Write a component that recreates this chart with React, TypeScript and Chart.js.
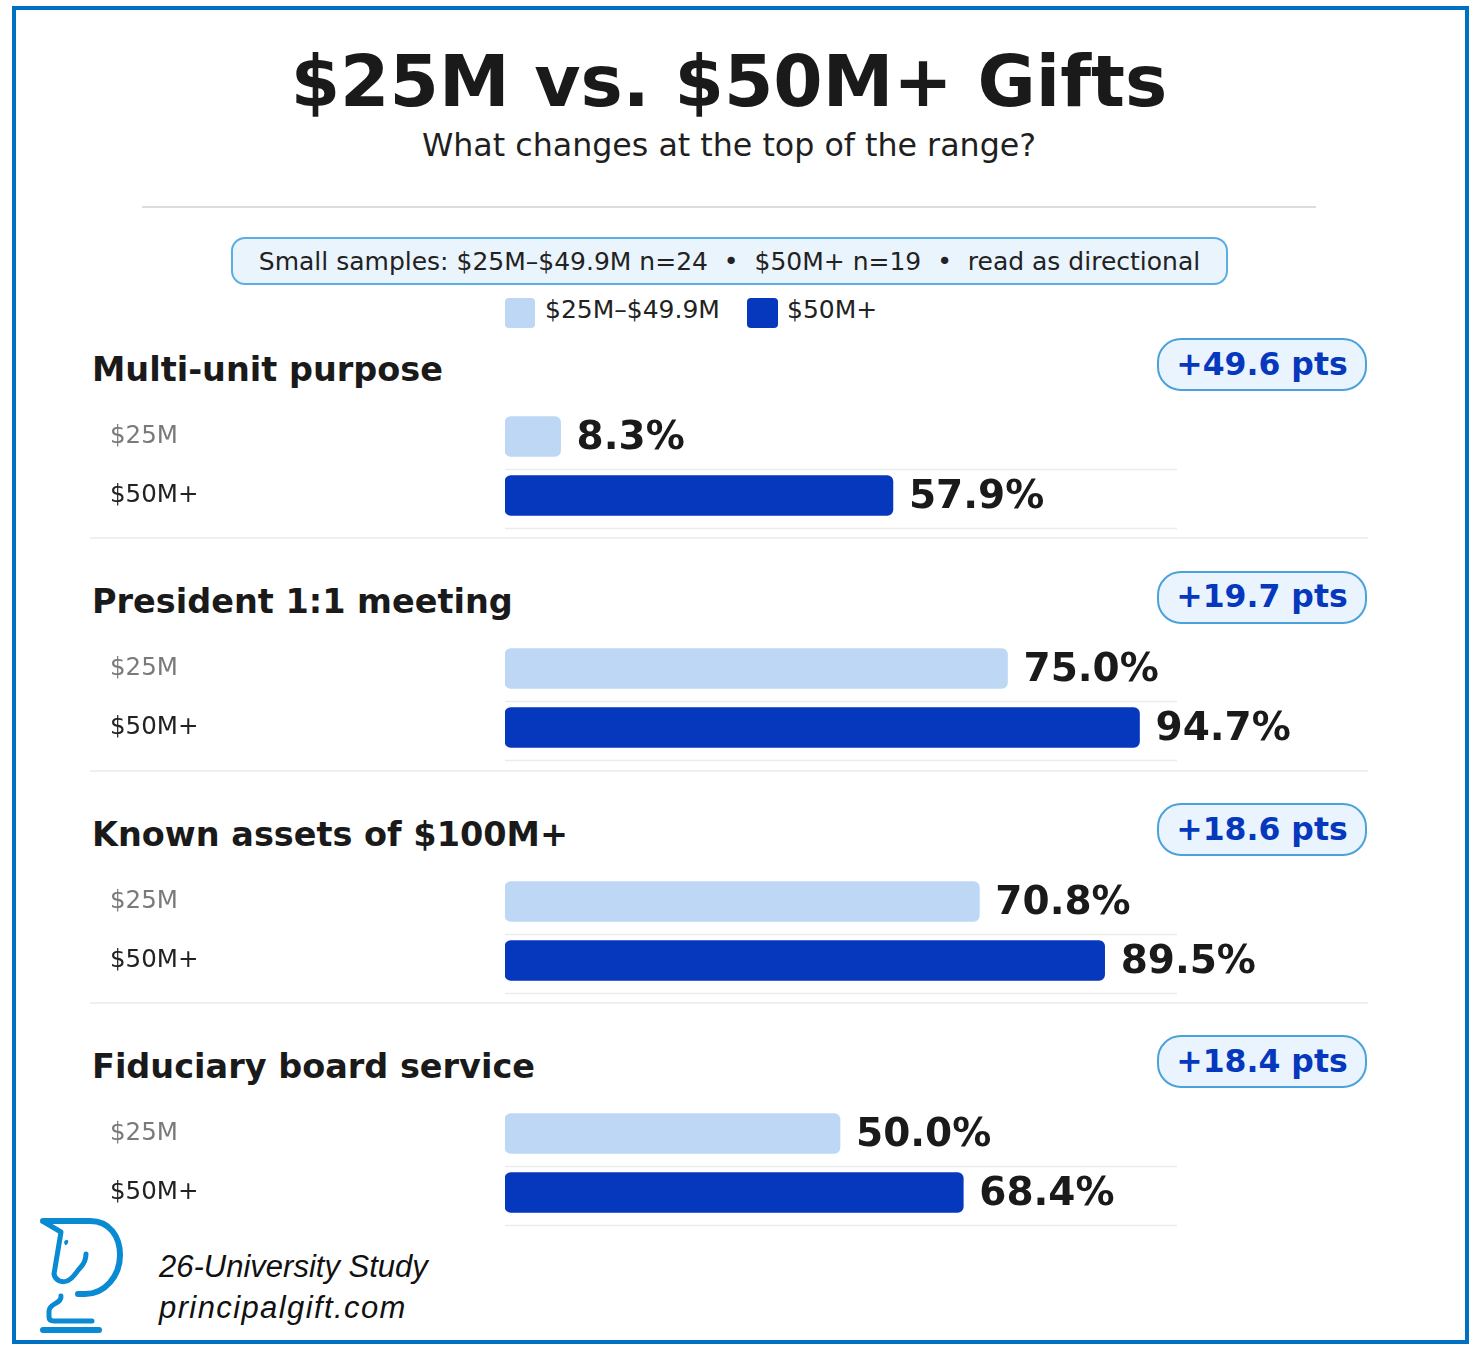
import React, { useEffect, useRef } from "react";
import { Chart, registerables } from "chart.js";

Chart.register(...registerables);
Chart.defaults.font.family = "'DejaVu Sans', sans-serif";

// ---- data ----
const groups = ["$25M", "$50M+"];
const legendLabels = ["$25M–$49.9M", "$50M+"];
const metrics = [
  "Multi-unit purpose",
  "President 1:1 meeting",
  "Known assets of $100M+",
  "Fiduciary board service",
];
const values25 = [8.3, 75.0, 70.8, 50.0];
const values50 = [57.9, 94.7, 89.5, 68.4];
const deltaLabels = ["+49.6 pts", "+19.7 pts", "+18.6 pts", "+18.4 pts"];
const noteText = "Small samples: $25M–$49.9M n=24  •  $50M+ n=19  •  read as directional";
const footerLines = ["26-University Study", "principalgift.com"];

const LIGHT = "#bdd7f5";
const DARK = "#0638bd";
const FONT = "'DejaVu Sans', sans-serif";
const FOOT_FONT = "'Liberation Sans', Arial, sans-serif";
const PANEL_OFFSETS = [0, 232.5, 465, 697];

const rowLinesPlugin = {
  id: "rowLines",
  beforeDatasetsDraw(chart: any) {
    const { ctx, chartArea, scales } = chart;
    const y = scales.y;
    ctx.save();
    ctx.strokeStyle = "#ececec";
    ctx.lineWidth = 1.5;
    for (let i = 0; i < groups.length; i++) {
      const py = y.getPixelForValue(i) + 33;
      ctx.beginPath();
      ctx.moveTo(chartArea.left, py);
      ctx.lineTo(chartArea.right + 2, py);
      ctx.stroke();
    }
    ctx.restore();
  },
};

const valueLabelPlugin = {
  id: "valueLabels",
  afterDatasetsDraw(chart: any) {
    const { ctx } = chart;
    const meta = chart.getDatasetMeta(0);
    const data = chart.data.datasets[0].data as number[];
    ctx.save();
    ctx.font = `bold 39px ${FONT}`;
    ctx.fillStyle = "#1a1a1a";
    ctx.textAlign = "left";
    ctx.textBaseline = "middle";
    meta.data.forEach((bar: any, i: number) => {
      ctx.fillText(`${data[i].toFixed(1)}%`, bar.x + 16, bar.y + 2);
    });
    ctx.restore();
  },
};

function PanelChart({ index, top }: { index: number; top: number }) {
  const ref = useRef<HTMLCanvasElement>(null);
  useEffect(() => {
    const chart = new Chart(ref.current as HTMLCanvasElement, {
      type: "bar",
      data: {
        labels: groups,
        datasets: [
          {
            data: [values25[index], values50[index]],
            backgroundColor: [LIGHT, DARK],
            borderRadius: 6,
            borderSkipped: false,
            barThickness: 40,
          },
        ],
      },
      options: {
        indexAxis: "y",
        animation: false,
        responsive: false,
        maintainAspectRatio: false,
        layout: { padding: { left: 0, right: 195, top: 0, bottom: 6 } },
        plugins: { legend: { display: false }, tooltip: { enabled: false } },
        scales: {
          x: { min: 0, max: 100, display: false },
          y: {
            grid: { display: false },
            border: { display: false },
            ticks: {
              color: (c: any) => (c.index === 0 ? "#7a7a7a" : "#222222"),
              font: { size: 24.5, family: FONT },
              crossAlign: "far",
              padding: 0,
            },
            afterFit: (s: any) => {
              s.width = 395;
              s.paddingTop = 0;
              s.paddingBottom = 0;
            },
          },
        },
      } as any,
      plugins: [rowLinesPlugin, valueLabelPlugin],
    });
    return () => chart.destroy();
  }, [index]);
  return (
    <canvas
      ref={ref}
      width={1260}
      height={124}
      style={{ position: "absolute", left: 110, top, width: 1260, height: 124 }}
    />
  );
}

function Txt(props: {
  x?: number;
  cx?: number;
  baseline: number;
  size: number;
  weight?: string | number;
  color?: string;
  family?: string;
  italic?: boolean;
  spacing?: number;
  children: React.ReactNode;
}) {
  const { x, cx, baseline, size, weight = "normal", color = "#1a1a1a", family = FONT, italic, spacing } = props;
  const top = baseline - 0.846 * size;
  const style: React.CSSProperties = {
    position: "absolute",
    top,
    fontSize: size,
    lineHeight: `${size}px`,
    fontWeight: weight as any,
    fontFamily: family,
    fontStyle: italic ? "italic" : "normal",
    letterSpacing: spacing ? `${spacing}px` : undefined,
    color,
    whiteSpace: "pre",
  };
  if (cx !== undefined) {
    style.left = cx - 1000;
    style.width = 2000;
    style.textAlign = "center";
  } else {
    style.left = x;
  }
  return <div style={style}>{props.children}</div>;
}

function Logo() {
  const c = "#0a8ad2";
  return (
    <svg
      style={{ position: "absolute", left: 30, top: 1210 }}
      width={110}
      height={130}
      viewBox="0 0 110 130"
    >
      <g fill="none" stroke={c} strokeLinejoin="round" strokeLinecap="round">
        <path strokeWidth={6} d="M 13 11 L 60 11 C 80 11 90 27 90 45 C 90 66 75 84 55 84 L 48 84" />
        <path strokeWidth={5} d="M 14 12 L 31 22 L 24 64 C 25 70 31 73 37 71 C 44 68 46 62 50 58 C 54 54 56 50 56 44" />
        <path strokeWidth={5} d="M 31 86 C 32 94 19 93 19 101 L 19 107 C 19 110 21 111 24 111 L 62 111" />
      </g>
      <path d="M 34 32 C 36 29 39 29 38 33 C 36 36 35 36 34 32 Z" fill={c} />
      <line x1={13} y1={120} x2={69} y2={120} stroke={c} strokeWidth={6} strokeLinecap="round" />
    </svg>
  );
}

export default function App() {
  return (
    <div
      style={{
        position: "absolute",
        left: 0,
        top: 0,
        width: 1473,
        height: 1349,
        background: "#ffffff",
        overflow: "hidden",
        fontFamily: FONT,
      }}
    >
      <div
        style={{
          position: "absolute",
          left: 12,
          top: 6,
          width: 1457,
          height: 1338,
          border: "4px solid #0070c0",
          boxSizing: "border-box",
        }}
      />
      <Txt cx={729} baseline={106} size={71} weight="bold" color="#1a1a1a">
        $25M vs. $50M+ Gifts
      </Txt>
      <Txt cx={729} baseline={157} size={31.7} color="#1f1f1f">
        What changes at the top of the range?
      </Txt>
      <div
        style={{ position: "absolute", left: 142, top: 206, width: 1174, height: 2, background: "#dddddd" }}
      />
      <div
        style={{
          position: "absolute",
          left: 231,
          top: 237,
          width: 997,
          height: 48,
          boxSizing: "border-box",
          border: "2px solid #5aaee2",
          borderRadius: 14,
          background: "#eaf4fd",
          display: "flex",
          alignItems: "center",
          justifyContent: "center",
          fontSize: 25,
          lineHeight: "25px",
          color: "#222",
          whiteSpace: "pre",
        }}
      >
        {noteText}
      </div>
      <div
        style={{ position: "absolute", left: 505, top: 298, width: 30, height: 30, borderRadius: 4, background: LIGHT }}
      />
      <Txt x={545} baseline={318} size={25} color="#222">
        {legendLabels[0]}
      </Txt>
      <div
        style={{ position: "absolute", left: 747, top: 298, width: 31, height: 30, borderRadius: 4, background: DARK }}
      />
      <Txt x={787} baseline={318} size={25} color="#222">
        {legendLabels[1]}
      </Txt>

      {metrics.map((m, i) => {
        const d = PANEL_OFFSETS[i];
        return (
          <React.Fragment key={m}>
            <Txt x={92} baseline={381 + d} size={33.5} weight="bold" color="#1a1a1a">
              {m}
            </Txt>
            <div
              style={{
                position: "absolute",
                left: 1157,
                top: 338 + d,
                width: 210,
                height: 53,
                boxSizing: "border-box",
                border: "2px solid #4aa2da",
                borderRadius: 24,
                background: "#eaf4fe",
                display: "flex",
                alignItems: "center",
                justifyContent: "center",
                fontSize: 31.5,
                lineHeight: "31.5px",
                fontWeight: "bold",
                color: DARK,
                whiteSpace: "pre",
              }}
            >
              {deltaLabels[i]}
            </div>
            <PanelChart index={i} top={406.5 + d} />
            {i < metrics.length - 1 && (
              <div
                style={{
                  position: "absolute",
                  left: 90,
                  top: 537 + d,
                  width: 1278,
                  height: 2,
                  background: "#efefef",
                }}
              />
            )}
          </React.Fragment>
        );
      })}

      <Logo />
      <Txt x={159} baseline={1277} size={31} italic family={FOOT_FONT} color="#111">
        {footerLines[0]}
      </Txt>
      <Txt x={159} baseline={1318} size={31} italic family={FOOT_FONT} color="#111" spacing={1.4}>
        {footerLines[1]}
      </Txt>
    </div>
  );
}
